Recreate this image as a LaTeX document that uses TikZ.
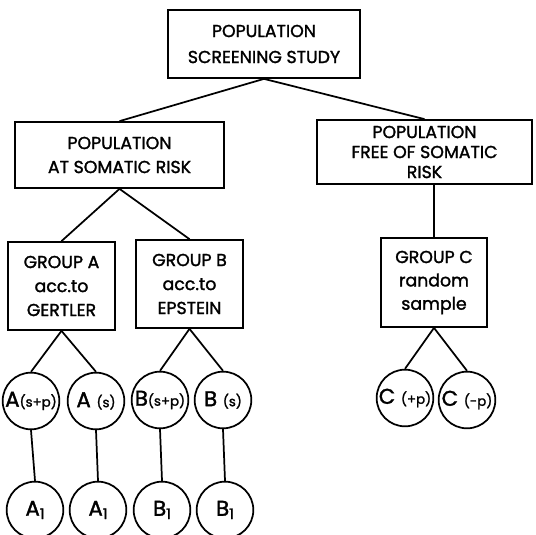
\documentclass[tikz,border=0pt]{standalone}
\usepackage{fontspec}
\setmainfont{Poppins}[FakeBold=1.6]
\begin{document}
\begin{tikzpicture}[x=0.75pt,y=-0.75pt, line width=1.3pt,
  box/.style={draw, rectangle, align=center, inner sep=0pt, font=\fontsize{13}{18}\selectfont},
  circ/.style={draw, circle, minimum size=42.5pt, inner sep=0pt, font=\fontsize{16}{16}\selectfont}]
\useasboundingbox (0,0) rectangle (536,535);
\newcommand{\smp}[1]{{\fontsize{10}{10}\selectfont #1}}
\newcommand{\sbone}{\raisebox{-2.5pt}{\fontsize{11}{11}\selectfont 1}}
% boxes
\node[box, minimum width=144pt, minimum height=51pt, font=\fontsize{13}{19.5}\selectfont] (top) at (264,44) {POPULATION\\SCREENING STUDY};
\node[box, minimum width=156.75pt, minimum height=49.5pt] (left) at (119.5,155) {POPULATION\\AT SOMATIC RISK};
\node[box, minimum width=161.25pt, minimum height=48pt, font=\fontsize{13}{15}\selectfont] (right) at (424.5,152) {POPULATION\\FREE OF SOMATIC\\RISK};
\node[box, minimum width=80.25pt, minimum height=66pt] (ga) at (61.5,286) {GROUP A\\acc.to\\GERTLER};
\node[box, minimum width=80.25pt, minimum height=66pt] (gb) at (189.5,284) {GROUP B\\acc.to\\EPSTEIN};
\node[box, minimum width=79.5pt, minimum height=66.75pt, font=\fontsize{13}{17.5}\selectfont] (gc) at (434,282.5) {GROUP C\\random\\sample};
% circles row 1
\node[circ] (c1) at (31,401) {A\smp{(s+p)}};
\node[circ] (c2) at (96,401) {A\ \smp{(s)}};
\node[circ] (c3) at (160,400) {B\smp{(s+p)}};
\node[circ] (c4) at (223,400) {B\ \smp{(s)}};
\node[circ] (c5) at (405,398) {C\ \smp{(+p)}};
\node[circ] (c6) at (467,400) {C\ \smp{(-p)}};
% circles row 2
\node[circ] (d1) at (35,510) {A\sbone};
\node[circ] (d2) at (98,510) {A\sbone};
\node[circ] (d3) at (162,510) {B\sbone};
\node[circ] (d4) at (225,510) {B\sbone};
% connectors
\draw (top.south) -- (left.north);
\draw (top.south) -- (right.north);
\draw (left.south) -- (ga.north);
\draw (left.south) -- (gb.north);
\draw (gc.north |- right.south) -- (gc.north);
\draw (gc.south) -- (c5.north);
\draw (gc.south) -- (c6.north);
\draw (ga.south) -- (c1.north);
\draw (ga.south) -- (c2.north);
\draw (gb.south) -- (c3.north);
\draw (gb.south) -- (c4.north);
\draw (c1.south) -- (d1.north);
\draw (c2.south) -- (d2.north);
\draw (c3.south) -- (d3.north);
\draw (c4.south) -- (d4.north);
\end{tikzpicture}
\end{document}
